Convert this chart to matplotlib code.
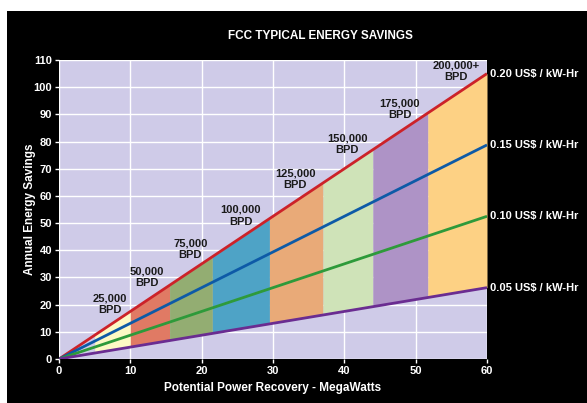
import matplotlib.pyplot as plt
import numpy as np
from matplotlib.patches import Rectangle

plt.rcParams['font.family'] = ['Liberation Sans', 'DejaVu Sans']

# Savings lines: value at 60 MW for each electricity price
price_labels = ['0.20 US$ / kW-Hr', '0.15 US$ / kW-Hr', '0.10 US$ / kW-Hr', '0.05 US$ / kW-Hr']
end_values = [105, 78.75, 52.5, 26.25]
line_colors = ['#cc2229', '#0d5aa7', '#2e9a3a', '#6a2c91']

# Capacity bands (MW ranges)
band_edges = [5, 10, 15.5, 21.5, 29.5, 37, 44, 51.7, 60]
band_colors = ['#fdf9c4', '#e07a64', '#93ad72', '#4ea3c6', '#e9aa78',
               '#cfe3b8', '#ae93c6', '#fdd184']
bpd_labels = ['25,000\nBPD', '50,000\nBPD', '75,000\nBPD', '100,000\nBPD',
              '125,000\nBPD', '150,000\nBPD', '175,000\nBPD', '200,000+\nBPD']
bpd_x = [7.1, 12.3, 18.4, 25.5, 33.1, 40.4, 47.8, 55.7]
bpd_y = [20.2, 30.2, 40.5, 52.7, 66.2, 79, 92, 105.7]

fig = plt.figure(figsize=(5.87, 4.03), dpi=100, facecolor='white')
fig.patches.append(Rectangle((7 / 587, 0), 1, 0.973, transform=fig.transFigure,
                             facecolor='black', edgecolor='none', zorder=-10))
ax = fig.add_axes([59 / 587, 1 - 359 / 403, 428 / 587, 299 / 403])
ax.set_facecolor('#cfcbe8')

hi = end_values[0] / 60
lo = end_values[-1] / 60
for x0, x1, c in zip(band_edges[:-1], band_edges[1:], band_colors):
    xs = np.array([x0, x1])
    ax.fill_between(xs, lo * xs, hi * xs, color=c, linewidth=0, zorder=2)

for v, c, lab in zip(end_values, line_colors, price_labels):
    ax.plot([0, 60], [0, v], color=c, linewidth=2, zorder=4, solid_capstyle='butt')
    ax.text(60.4, v, lab, color='white', fontsize=8, fontweight='bold',
            va='center', ha='left', clip_on=False)

for x, y, lab in zip(bpd_x, bpd_y, bpd_labels):
    ax.text(x, y, lab, color='#1a1a1a', fontsize=8, fontweight='bold',
            ha='center', va='center', linespacing=1.2, zorder=5)

ax.set_xlim(0, 60)
ax.set_ylim(0, 110)
ax.set_xticks(range(0, 61, 10))
ax.set_yticks(range(0, 111, 10))
ax.grid(color='white', linewidth=1, zorder=1)
ax.set_axisbelow(True)
for s in ax.spines.values():
    s.set_visible(False)
ax.tick_params(colors='white', labelsize=8, length=3, width=1, pad=2)
for lab in ax.get_xticklabels() + ax.get_yticklabels():
    lab.set_fontweight('bold')

ax.set_xlabel('Potential Power Recovery - MegaWatts', color='white', fontsize=8.5,
              fontweight='bold', va='center')
ax.set_ylabel('Annual Energy Savings', color='white', fontsize=8.5,
              fontweight='bold', va='center')
ax.xaxis.set_label_coords(0.5, -0.097)
ax.yaxis.set_label_coords(-0.068, 0.5)
fig.text(320 / 587, 1 - 36 / 403, 'FCC TYPICAL ENERGY SAVINGS', color='white',
         fontsize=8.5, fontweight='bold', ha='center', va='center')

plt.savefig('out.png', dpi=100, facecolor='white')
